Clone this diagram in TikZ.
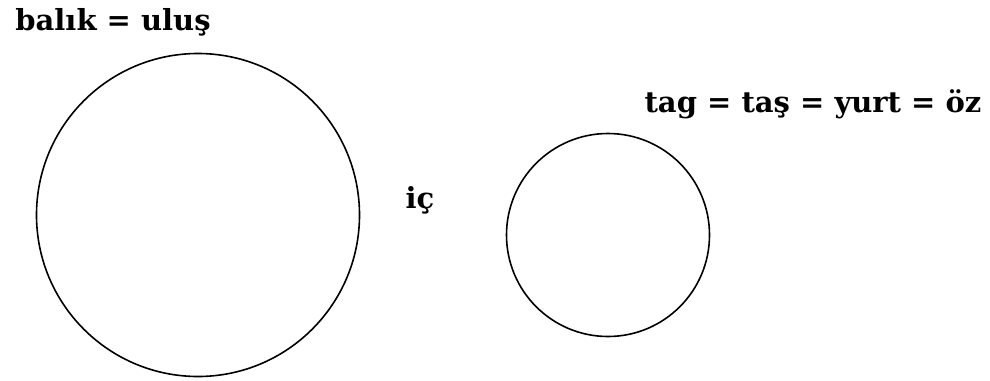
\documentclass[tikz,border=0pt]{standalone}
\usepackage{fontspec}
\setmainfont{DejaVu Serif}
\usetikzlibrary{positioning}

\begin{document}
\begin{tikzpicture}[x=1pt, y=-1pt, thick]
    \tikzset{
      set/.style={circle, draw, line width=1.6pt, inner sep=0pt},
      word/.style={font=\fontsize{29}{34}\selectfont\bfseries, inner sep=0pt}
    }
    \useasboundingbox (0,0) rectangle (990,380);

    \node[set, minimum size=323pt] (balik) at (198, 215) {};
    \node[set, minimum size=203pt] (tag) at (608, 235) {};

    \node[word] (balikname) at (113, 22) {balık = uluş};
    \node[word] (tagname) at (813, 104) {tag = taş = yurt = öz};
    \node[word] (ic) at (420, 200) {iç};
  \end{tikzpicture}
\end{document}
